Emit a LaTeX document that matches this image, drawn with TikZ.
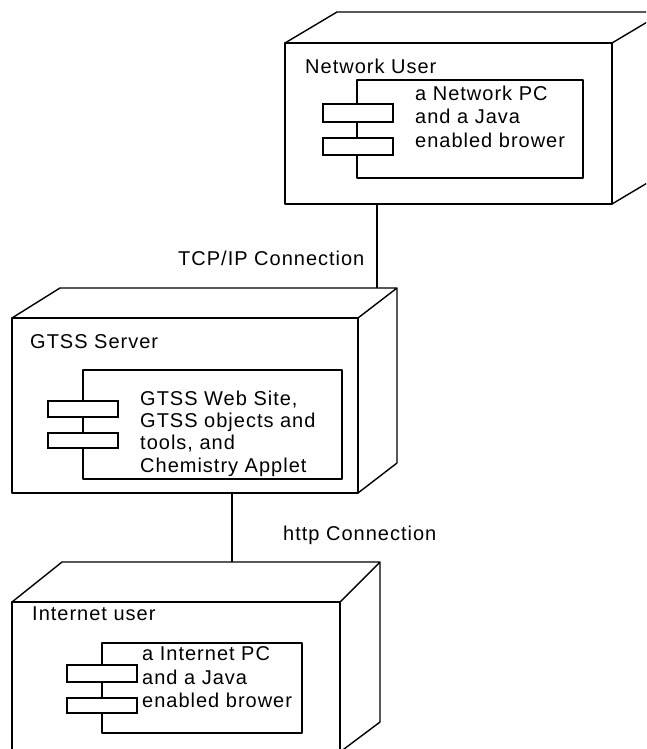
\documentclass[tikz,border=0pt]{standalone}
\usepackage{fontspec}
\setmainfont{Liberation Sans}[LetterSpace=5]
\begin{document}
\begin{tikzpicture}[x=1pt,y=-1pt,
  edge/.style={line width=1.4pt, line join=round},
  part/.style={draw, line width=1.4pt, fill=white},
  lbl/.style={anchor=base west, inner sep=0pt, font=\fontsize{20pt}{24pt}\selectfont},
]
\useasboundingbox (0,0) rectangle (646,749);
\clip (0,0) rectangle (646,749);

% ---------- Network User node ----------
\coordinate (nuA) at (285,43);
\coordinate (nuB) at (612,43);
\coordinate (nuC) at (612,204);
\coordinate (nuE) at (337,12);
\coordinate (nuF) at (664,12);
\coordinate (nuG) at (664,173);
\draw[edge] (nuA) rectangle (nuC);
\draw[edge] (nuA) -- (nuE) -- (nuF) -- (nuB) (nuF) -- (nuG) -- (nuC);
\draw[edge] (357,80) rectangle (583,178);
\draw[part] (323,104) rectangle (393,122);
\draw[part] (323,138) rectangle (393,155);
\node[lbl] (nuT) at (305,74) {Network User};
\node[lbl] (nu1) at (415,101) {a Network PC};
\node[lbl] (nu2) at (415,124) {and a Java};
\node[lbl] (nu3) at (415,147) {enabled brower};
\coordinate (nuBot) at (377,204);

% ---------- GTSS Server node ----------
\coordinate (gsA) at (12,318);
\coordinate (gsB) at (358,318);
\coordinate (gsC) at (358,493);
\coordinate (gsE) at (60,288);
\coordinate (gsF) at (397,288);
\coordinate (gsG) at (397,463);
\draw[edge] (gsA) rectangle (gsC);
\draw[edge] (gsA) -- (gsE) -- (gsF) -- (gsB) (gsF) -- (gsG) -- (gsC);
\draw[edge] (83,370) rectangle (342,479);
\draw[part] (48,401) rectangle (118,417);
\draw[part] (48,433) rectangle (118,448);
\node[lbl] (gsT) at (30,348) {GTSS Server};
\node[lbl] (gs1) at (140,405) {GTSS Web Site,};
\node[lbl] (gs2) at (140,427) {GTSS objects and};
\node[lbl] (gs3) at (140,449) {tools, and};
\node[lbl] (gs4) at (140,472) {Chemistry Applet};
\coordinate (gsTop) at (377,288);
\coordinate (gsBot) at (232,493);

% ---------- Internet user node ----------
\coordinate (iuA) at (12,602);
\coordinate (iuB) at (340,602);
\coordinate (iuC) at (340,752);
\coordinate (iuE) at (62,562);
\coordinate (iuF) at (380,562);
\coordinate (iuG) at (380,722);
\draw[edge] (iuA) rectangle (iuC);
\draw[edge] (iuA) -- (iuE) -- (iuF) -- (iuB) (iuF) -- (iuG) -- (iuC);
\draw[edge] (102,643) rectangle (302,733);
\draw[part] (67,665) rectangle (137,682);
\draw[part] (67,698) rectangle (137,713);
\node[lbl] (iuT) at (32,620) {Internet user};
\node[lbl] (iu1) at (142,660) {a Internet PC};
\node[lbl] (iu2) at (142,684) {and a Java};
\node[lbl] (iu3) at (142,707) {enabled brower};
\coordinate (iuTop) at (232,562);

% ---------- connections ----------
\draw[edge] (nuBot) -- (gsTop);
\draw[edge] (gsBot) -- (iuTop);
\node[lbl] (tcp) at (178,265) {TCP/IP Connection};
\node[lbl] (http) at (283,540) {http Connection};
\end{tikzpicture}
\end{document}
